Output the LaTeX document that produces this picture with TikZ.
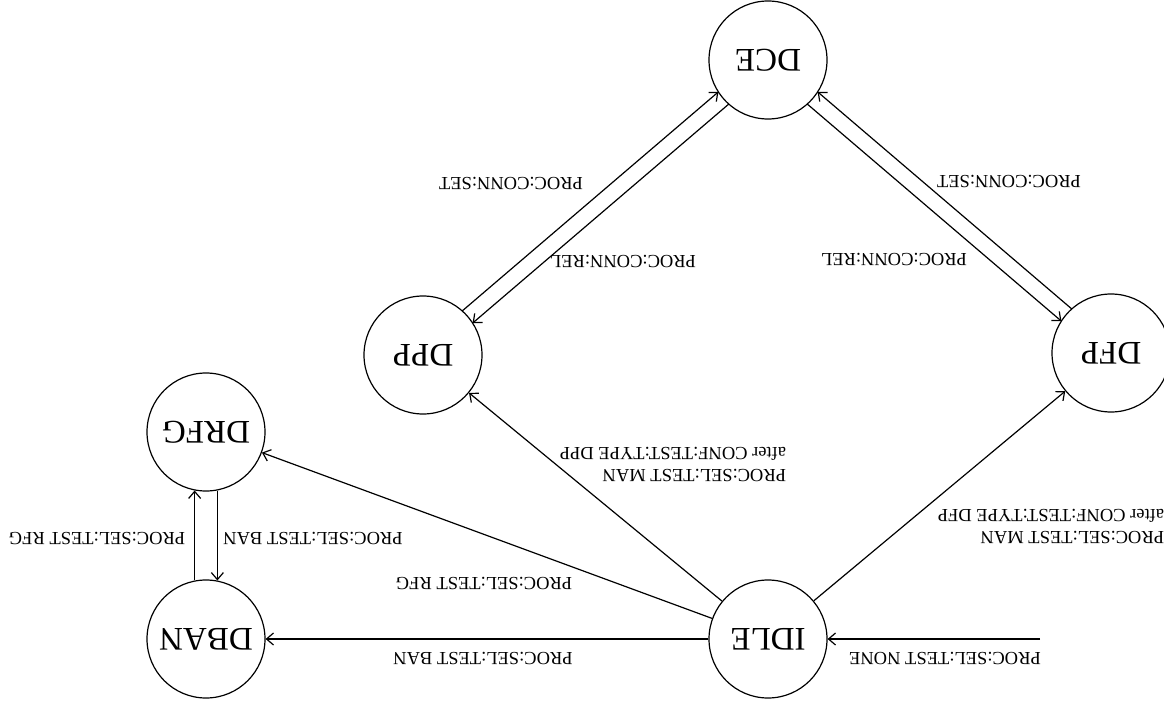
\documentclass[tikz,border=0pt]{standalone}
\usepackage{fontspec}
\setmainfont{Liberation Serif}
\usetikzlibrary{calc,arrows.meta}
\begin{document}
\begin{tikzpicture}[x=1pt,y=-1pt,
  state/.style={circle,draw,line width=1.2pt,minimum size=118pt,inner sep=0pt,font=\fontsize{33}{36}\selectfont},
  lab/.style={rotate=180,inner sep=0pt,font=\fontsize{18.5}{22}\selectfont,align=left},
  arr/.style={line width=1.2pt,-{Straight Barb[length=7pt,width=12pt,line width=1.2pt]}}]
\useasboundingbox (0,0) rectangle (1164,703);
% states
\node[state] (DCE)  at (768,60)  {\rotatebox{180}{DCE}};
\node[state] (DPP)  at (423,355) {\rotatebox{180}{DPP}};
\node[state] (DFP)  at (1111,353) {\rotatebox{180}{DFP}};
\node[state] (DRFG) at (206,432) {\rotatebox{180}{DRFG}};
\node[state] (DBAN) at (206,639) {\rotatebox{180}{DBAN}};
\node[state] (IDLE) at (768,639) {\rotatebox{180}{IDLE}};
\coordinate (start) at (1040,639);
% connectors
\draw[arr] (start) -- (IDLE);
\draw[arr] (IDLE) -- (DBAN);
\draw[arr] (IDLE) -- (DRFG);
\draw[arr] (IDLE) -- (DPP);
\draw[arr] (IDLE) -- (DFP);
\draw[arr] (DBAN.101) -- (DRFG.259);
\draw[arr] (DRFG.281) -- (DBAN.79);
% DPP <-> DCE
\draw[arr] ($(DPP)!58.4pt!(DCE)!8pt!90:(DCE)$) -- ($(DCE)!58.4pt!(DPP)!8pt!-90:(DPP)$);
\draw[arr] ($(DCE)!58.4pt!(DPP)!8pt!90:(DPP)$) -- ($(DPP)!58.4pt!(DCE)!8pt!-90:(DCE)$);
% DFP <-> DCE
\draw[arr] ($(DFP)!58.4pt!(DCE)!8pt!-90:(DCE)$) -- ($(DCE)!58.4pt!(DFP)!8pt!90:(DFP)$);
\draw[arr] ($(DCE)!58.4pt!(DFP)!8pt!-90:(DFP)$) -- ($(DFP)!58.4pt!(DCE)!8pt!90:(DCE)$);
% labels
\node[lab] (lSETl) at (511,183) {PROC:CONN:SET};
\node[lab] (lRELl) at (623,261) {PROC:CONN:REL};
\node[lab] (lSETr) at (1009,181) {PROC:CONN:SET};
\node[lab] (lRELr) at (894,259) {PROC:CONN:REL};
\node[lab] (lDPP) at (673,464) {PROC:SEL:TEST MAN\\after CONF:TEST:TYPE DPP};
\node[lab] (lDFP) at (1051,526) {PROC:SEL:TEST MAN\\after CONF:TEST:TYPE DFP};
\node[lab] (lRFG) at (484,583) {PROC:SEL:TEST RFG};
\node[lab] (lBAN) at (483,658) {PROC:SEL:TEST BAN};
\node[lab] (lNONE) at (945,658) {PROC:SEL:TEST NONE};
\node[lab] (lRFG2) at (97,538) {PROC:SEL:TEST RFG};
\node[lab] (lBAN2) at (313,538) {PROC:SEL:TEST BAN};
\end{tikzpicture}
\end{document}
